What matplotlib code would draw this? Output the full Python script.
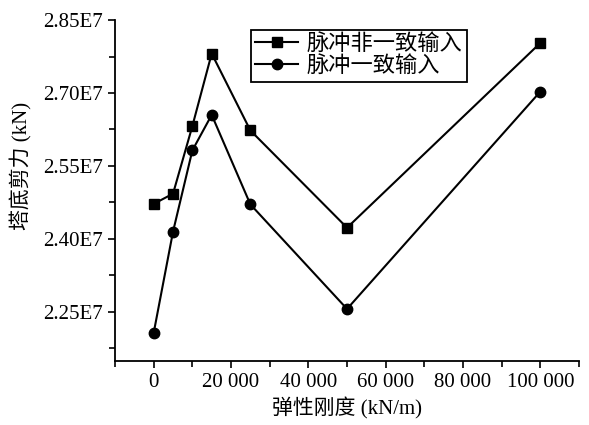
import matplotlib.pyplot as plt
from matplotlib.ticker import FuncFormatter, MultipleLocator

# stiffness (kN/m) and base shear (kN)
stiffness = [0, 5000, 10000, 15000, 25000, 50000, 100000]
shear_nonuniform = [2.472e7, 2.493e7, 2.632e7, 2.781e7, 2.623e7, 2.423e7, 2.803e7]
shear_uniform = [2.207e7, 2.415e7, 2.582e7, 2.655e7, 2.471e7, 2.256e7, 2.703e7]
series_labels = ["脉冲非一致输入", "脉冲一致输入"]

fonts = ['Liberation Serif', 'Noto Sans CJK SC']
plt.rcParams['font.family'] = fonts
plt.rcParams['axes.unicode_minus'] = False

fig = plt.figure(figsize=(5.89, 4.25), dpi=100)
ax = fig.add_axes([0.1953, 0.1506, 0.7878, 0.8034])

ax.plot(stiffness, shear_nonuniform, color='black', lw=1.5, marker='s', ms=7,
        label=series_labels[0])
ax.plot(stiffness, shear_uniform, color='black', lw=1.5, marker='o', ms=7.5,
        label=series_labels[1])

ax.set_xlim(-10000, 110000)
ax.set_ylim(2.149e7, 2.851e7)

ax.xaxis.set_major_locator(MultipleLocator(20000))
ax.xaxis.set_minor_locator(MultipleLocator(10000))
ax.yaxis.set_major_locator(MultipleLocator(0.15e7))
ax.yaxis.set_minor_locator(MultipleLocator(0.075e7))

ax.xaxis.set_major_formatter(FuncFormatter(lambda v, p: f"{int(round(v)):,}".replace(",", " ")))
ax.yaxis.set_major_formatter(FuncFormatter(lambda v, p: f"{v / 1e7:.2f}E7"))

for s in ['top', 'right']:
    ax.spines[s].set_visible(False)
for s in ['left', 'bottom']:
    ax.spines[s].set_linewidth(1.3)

ax.tick_params(which='major', direction='out', length=5, width=1.2, labelsize=15)
ax.tick_params(which='minor', direction='out', length=4, width=1.2)

ax.set_xlabel("弹性刚度 (kN/m)", fontsize=15, labelpad=4)
ax.set_ylabel("塔底剪力 (kN)", fontsize=15)
ax.yaxis.set_label_coords(-0.177, 0.57)

leg = ax.legend(loc='upper left', bbox_to_anchor=(0.293, 0.97), fontsize=16,
                frameon=True, fancybox=False, edgecolor='black', framealpha=1,
                handlelength=1.9, handletextpad=0.4, borderpad=0.2,
                labelspacing=0.05, borderaxespad=0)
leg.get_frame().set_linewidth(1.3)

fig.savefig("out.png", dpi=100)
